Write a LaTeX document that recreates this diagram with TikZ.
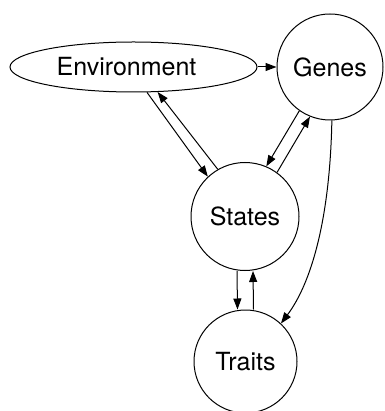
\documentclass[tikz,border=0pt]{standalone}
\usepackage{fontspec}
\setmainfont{TeX Gyre Heros}
\usetikzlibrary{shapes.geometric,arrows.meta}
\tikzset{
  var/.style={circle,draw,line width=1pt,inner sep=0,minimum size=#1},
  link/.style={line width=1pt,-{Triangle[length=11pt,width=8pt]}},
}
\begin{document}
\begin{tikzpicture}[x=1pt,y=-1pt,font=\fontsize{25}{29}\selectfont]
\useasboundingbox(0,0)rectangle(384,411);
\node[ellipse,draw,line width=1pt,inner sep=0,minimum width=247pt,minimum height=50pt](Env)at(133.5,67){\hspace*{-14pt}Environment};
\node[var=106pt](Genes)at(330,67){Genes};
\node[var=108pt](States)at(245,216.5){States};
\node[var=103pt](Traits)at(245.5,361.5){Traits};
\draw[link](Env.east)--(Genes.west);
\draw[link](Env.-62)--(States.133);
\draw[link](States.120)--(Env.-46);
\draw[link](Genes.-125)--(States.67);
\draw[link](States.54)--(Genes.-112);
\draw[link](Genes.-88)..controls+(-2,100)and+(30,-40)..(Traits.47);
\draw[link]([xshift=-8pt]States.south)--([xshift=-8pt]Traits.north);
\draw[link]([xshift=8pt]Traits.north)--([xshift=8pt]States.south);
\end{tikzpicture}
\end{document}
